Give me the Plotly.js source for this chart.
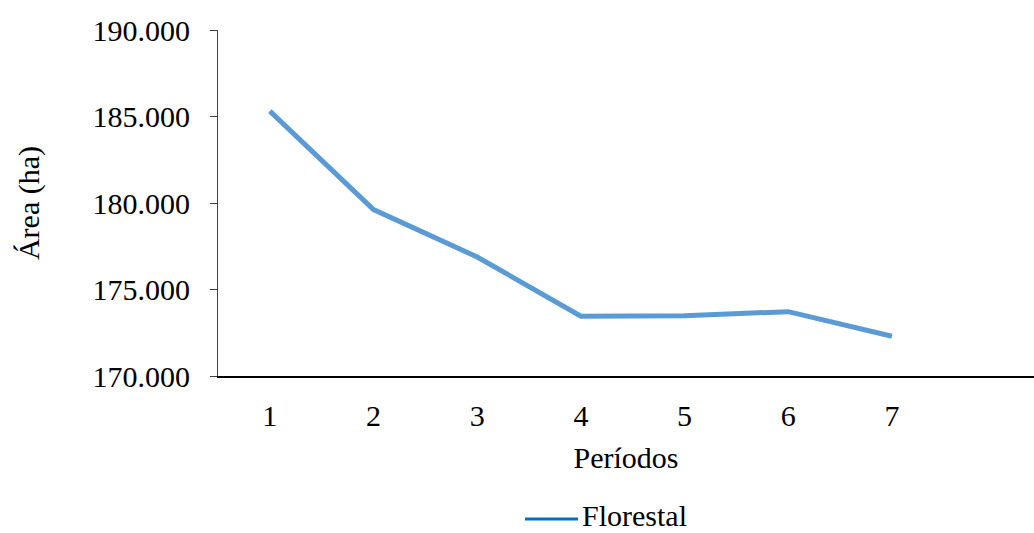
<!DOCTYPE html>
<html>
<head>
<meta charset="utf-8">
<script src="https://cdn.plot.ly/plotly-3.0.1.min.js"></script>
<style>html,body{margin:0;padding:0;background:#fff;}#chart{width:1034px;height:533px;}</style>
</head>
<body>
<div id="chart"></div>
<script>
const periodos = [1, 2, 3, 4, 5, 6, 7];
const florestal = [185310, 179620, 176880, 173460, 173480, 173720, 172300];
const yTickVals = [170000, 175000, 180000, 185000, 190000];
const yTickText = ['170.000', '175.000', '180.000', '185.000', '190.000'];
const seriesName = 'Florestal';

const font = 'Times New Roman, Liberation Serif, DejaVu Serif, serif';
const fs = 30;

const trace = {
  x: periodos,
  y: florestal,
  type: 'scatter',
  mode: 'lines',
  name: seriesName,
  line: {color: '#5B9BD5', width: 5},
  showlegend: false
};

const layout = {
  width: 1034, height: 533,
  margin: {l: 218, r: 0, t: 30, b: 157},
  paper_bgcolor: '#fff', plot_bgcolor: '#fff',
  font: {family: font, color: '#000', size: fs},
  xaxis: {
    range: [0.5, 8.37],
    tickvals: periodos,
    ticktext: periodos.map(String),
    showgrid: false, zeroline: false,
    showline: true, linecolor: '#000', linewidth: 2,
    ticks: '', ticklabelstandoff: 12,
    tickfont: {family: font, size: fs, color: '#000'},
    title: {text: 'Períodos', font: {family: font, size: fs, color: '#000'}, standoff: 16}
  },
  yaxis: {
    range: [170000, 190000],
    tickvals: yTickVals,
    ticktext: yTickText,
    showgrid: false, zeroline: false,
    showline: true, linecolor: '#404040', linewidth: 1,
    ticks: 'outside', ticklen: 7, tickcolor: '#404040', tickwidth: 1,
    ticklabelstandoff: 14,
    tickfont: {family: font, size: fs, color: '#000'},
    title: {text: 'Área (ha)', font: {family: font, size: fs, color: '#000'}, standoff: 44}
  },
  shapes: [{
    type: 'line', xref: 'paper', yref: 'paper',
    x0: (525 - 218) / 816, x1: (578 - 218) / 816,
    y0: -(519 - 376) / 346, y1: -(519 - 376) / 346,
    line: {color: '#0070C0', width: 3}
  }],
  annotations: [{
    xref: 'paper', yref: 'paper',
    x: (580 - 218) / 816, y: -(515 - 376) / 346,
    xanchor: 'left', yanchor: 'middle',
    text: seriesName, showarrow: false,
    font: {family: font, size: fs, color: '#000'}
  }]
};

Plotly.newPlot('chart', [trace], layout, {displayModeBar: false, staticPlot: true});
</script>
</body>
</html>
